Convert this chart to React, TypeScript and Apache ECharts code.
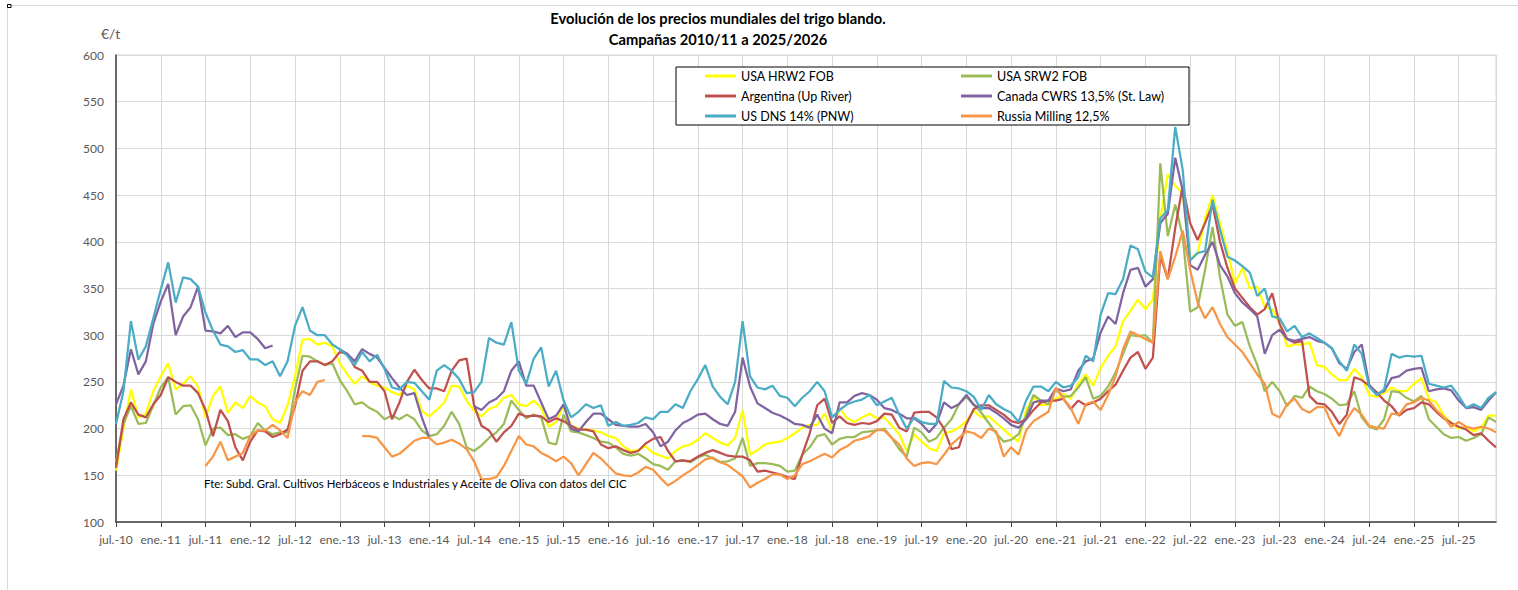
import React, { useEffect, useRef } from 'react';
import * as echarts from 'echarts';

// Monthly values, index 0 = jul-2010 ... 185 = dic-2025 (€/t)
const xTickLabels = [
  'jul.-10', 'ene.-11', 'jul.-11', 'ene.-12', 'jul.-12', 'ene.-13', 'jul.-13', 'ene.-14',
  'jul.-14', 'ene.-15', 'jul.-15', 'ene.-16', 'jul.-16', 'ene.-17', 'jul.-17', 'ene.-18',
  'jul.-18', 'ene.-19', 'jul.-19', 'ene.-20', 'jul.-20', 'ene.-21', 'jul.-21', 'ene.-22',
  'jul.-22', 'ene.-23', 'jul.-23', 'ene.-24', 'jul.-24', 'ene.-25', 'jul.-25',
];

const seriesNames = [
  'USA HRW2 FOB',
  'USA SRW2 FOB',
  'Argentina (Up River)',
  'Canada CWRS 13,5% (St. Law)',
  'US DNS 14% (PNW)',
  'Russia Milling 12,5%',
];

const seriesColors = ['#FFFF00', '#9BBB59', '#C0504D', '#8064A2', '#4BACC6', '#F79646'];

const hrw2 = [
  155, 200, 242, 212, 216, 240, 256, 270, 242, 248, 256, 245,
  212, 235, 245, 217, 228, 222, 235, 228, 224, 210, 206, 225,
  256, 295, 296, 290, 292, 288, 270, 258, 248, 256, 250, 246,
  244, 239, 236, 246, 242, 219, 213, 220, 228, 246, 245, 230,
  219, 213, 221, 224, 233, 236, 226, 224, 230, 222, 202, 207,
  225, 203, 200, 199, 198, 196, 192, 190, 181, 176, 177, 181,
  174, 171, 168, 176, 181, 183, 188, 195, 190, 185, 182, 190,
  220, 172, 177, 183, 185, 186, 190, 195, 201, 204, 204, 216,
  198, 222, 211, 207, 212, 216, 211, 212, 203, 194, 176, 194,
  186, 179, 176, 195, 197, 201, 208, 219, 212, 213, 206, 199,
  192, 186, 220, 234, 225, 226, 232, 237, 232, 248, 258, 246,
  265, 278, 288, 315, 326, 338, 328, 338, 425, 472, 460, 452,
  382, 388, 425, 450, 420, 390, 355, 372, 350, 352, 330, 328,
  312, 288, 290, 290, 292, 268, 266, 258, 252, 252, 264, 255,
  236, 234, 238, 244, 240, 240, 248, 254, 232, 228, 214, 206,
  200, 202, 197, 201, 214, 214,
];

const srw2 = [
  164, 205, 224, 205, 206, 225, 244, 255, 215, 224, 225, 210,
  182, 200, 201, 193, 194, 189, 192, 206, 198, 194, 196, 196,
  242, 278, 277, 272, 268, 270, 252, 240, 226, 228, 222, 218,
  210, 214, 210, 215, 210, 198, 192, 194, 203, 218, 205, 180,
  176, 182, 190, 196, 205, 230, 220, 211, 215, 212, 185, 183,
  215, 197, 196, 193, 190, 186, 185, 180, 173, 171, 173, 168,
  162, 160, 156, 165, 166, 164, 169, 172, 168, 164, 165, 168,
  190, 160, 163, 163, 162, 160, 154, 155, 172, 180, 192, 194,
  183, 189, 191, 191, 196, 197, 198, 200, 190, 178, 170, 201,
  196, 186, 190, 201, 210, 226, 234, 226, 217, 206, 195, 186,
  188, 194, 214, 236, 230, 226, 242, 234, 235, 244, 255, 232,
  235, 245, 260, 280, 300, 299, 300, 292, 484, 406, 440, 406,
  325, 330, 370, 416, 362, 322, 310, 314, 288, 268, 240, 250,
  240, 224, 235, 233, 245, 240, 237, 232, 225, 226, 240, 212,
  202, 199, 210, 240, 239, 233, 229, 235, 210, 202, 194, 190,
  191, 187, 190, 194, 212, 207,
];

const argentina = [
  158, 210, 228, 215, 212, 226, 236, 255, 250, 246, 246, 238,
  220, 192, 220, 208, 180, 166, 186, 198, 197, 191, 194, 199,
  224, 262, 272, 272, 268, 272, 282, 280, 266, 262, 250, 250,
  240, 210, 228, 250, 263, 252, 243, 243, 240, 262, 273, 275,
  225, 203, 198, 186, 196, 203, 216, 213, 214, 213, 207, 211,
  208, 203, 199, 199, 197, 183, 179, 181, 177, 174, 176, 184,
  189, 191, 176, 165, 166, 165, 170, 174, 177, 174, 171, 170,
  170, 166, 154, 155, 153, 151, 148, 146, 172, 195, 225, 232,
  206, 213, 206, 204, 206, 205, 208, 216, 215, 201, 197, 217,
  218, 218, 212, 200, 178, 180, 205, 221, 225, 225, 220, 215,
  208, 206, 210, 220, 228, 230, 230, 232, 221, 230, 225, 228,
  232, 240, 247, 262, 276, 282, 264, 276, 385, 360, 415, 460,
  420, 402, 420, 440, 400, 372, 350, 340, 330, 322, 328, 345,
  312, 296, 292, 294, 235, 227, 226, 218, 205, 215, 255, 252,
  246, 239, 230, 224, 214, 220, 222, 228, 226, 218, 211, 206,
  202, 199, 193, 195, 187, 180,
];

const canada = [
  226, 246, 285, 258, 272, 312, 336, 355, 300, 320, 330, 352,
  305, 304, 302, 310, 298, 303, 303, 296, 286, 289, null, null,
  null, null, null, null, null, null, 285, 280, 272, 285, 280, 276,
  265, 254, 244, 236, 238, 212, 190, null, null, null, null, null,
  224, 220, 228, 232, 240, 262, 272, 246, 246, 228, 210, 214,
  226, 200, 197, 207, 216, 216, 210, 204, 203, 202, 202, 205,
  196, 181, 186, 198, 206, 210, 215, 216, 210, 205, 203, 218,
  276, 245, 227, 222, 217, 214, 210, 205, 204, 201, 215, 200,
  195, 228, 228, 235, 238, 236, 231, 222, 220, 216, 211, 211,
  205, 196, 205, 228, 222, 226, 236, 225, 222, 222, 217, 211,
  204, 201, 210, 228, 230, 230, 243, 240, 242, 262, 272, 275,
  303, 320, 312, 345, 370, 372, 352, 360, 420, 430, 490, 455,
  375, 370, 386, 400, 375, 363, 345, 335, 328, 320, 280, 300,
  306, 296, 294, 296, 298, 294, 292, 286, 270, 264, 282, 290,
  247, 237, 240, 254, 256, 262, 264, 265, 240, 242, 243, 241,
  230, 222, 223, 220, 230, 239,
];

const dns = [
  205, 240, 315, 274, 288, 318, 349, 378, 335, 362, 360, 352,
  324, 305, 290, 288, 282, 284, 274, 274, 268, 272, 256, 272,
  310, 330, 305, 300, 300, 290, 285, 278, 268, 282, 272, 279,
  264, 244, 242, 250, 249, 240, 231, 262, 268, 262, 253, 238,
  239, 250, 297, 292, 290, 314, 262, 248, 275, 287, 245, 262,
  230, 212, 218, 226, 222, 225, 203, 207, 203, 204, 206, 212,
  210, 218, 218, 226, 222, 240, 253, 268, 245, 234, 226, 250,
  315, 256, 244, 242, 246, 235, 233, 224, 233, 240, 250, 240,
  212, 220, 226, 229, 231, 236, 225, 229, 233, 215, 200, 212,
  207, 205, 205, 251, 244, 243, 240, 234, 220, 236, 226, 221,
  217, 207, 230, 245, 245, 240, 250, 244, 246, 255, 278, 272,
  322, 345, 344, 360, 396, 392, 368, 362, 425, 434, 523, 477,
  380, 388, 390, 445, 413, 384, 380, 374, 367, 342, 350, 320,
  318, 304, 310, 298, 302, 297, 292, 286, 272, 262, 290, 280,
  245, 236, 242, 280, 276, 278, 277, 278, 248, 246, 244, 246,
  235, 222, 226, 222, 233, 239,
];

const russia = [
  null, null, null, null, null, null, null, null, null, null, null, null,
  160, 170, 186, 166, 170, 174, 192, 198, 198, 204, 198, 190,
  228, 240, 236, 250, 252, null, null, null, null, 192, 192, 190,
  180, 170, 173, 180, 187, 190, 190, 183, 185, 188, 184, 178,
  165, 146, 146, 148, 160, 176, 192, 183, 181, 174, 170, 165,
  170, 163, 150, 162, 174, 168, 160, 152, 150, 149, 153, 159,
  156, 147, 139, 144, 150, 155, 161, 167, 169, 164, 161, 155,
  149, 137, 142, 146, 151, 151, 146, 150, 162, 165, 169, 173,
  169, 177, 181, 187, 189, 192, 199, 198, 190, 183, 168, 160,
  163, 164, 162, 172, 183, 190, 197, 195, 190, 200, 197, 170,
  180, 172, 198, 208, 213, 218, 244, 232, 222, 205, 226, 229,
  220, 236, 256, 285, 304, 300, 296, 292, 390, 360, 384, 412,
  370, 335, 318, 330, 312, 298, 290, 282, 270, 258, 248, 216,
  212, 226, 232, 221, 217, 223, 223, 205, 192, 210, 222, 215,
  203, 201, 200, 216, 215, 226, 228, 233, 230, 220, 212, 202,
  207, 202, 200, 202, 200, 196,
];

const allSeries = [hrw2, srw2, argentina, canada, dns, russia];
const legendTextWidths = [216, 190, 216, 190, 216, 190];

const titleLines = [
  'Evolución de los precios mundiales del trigo blando.',
  'Campañas 2010/11 a 2025/2026',
];
const unitLabel = '€/t';
const sourceNote = 'Fte: Subd. Gral. Cultivos Herbáceos e Industriales y Aceite de Oliva con datos del CIC';

const FONT = 'Lato, "Noto Sans", sans-serif';

export default function App() {
  const ref = useRef<HTMLDivElement>(null);

  useEffect(() => {
    if (!ref.current) return;
    const chart = echarts.init(ref.current, null, { renderer: 'svg' });

    const series = allSeries.map((arr, k) => ({
      name: seriesNames[k],
      type: 'line',
      symbol: 'none',
      connectNulls: false,
      data: arr.map((v, i) => [i, v === null ? '-' : v]),
      lineStyle: { width: 2.25, color: seriesColors[k] },
      itemStyle: { color: seriesColors[k] },
      emphasis: { disabled: true },
      z: 2 + k,
    }));

    chart.setOption({
      animation: false,
      backgroundColor: '#ffffff',
      textStyle: { fontFamily: FONT },
      grid: {
        left: 116,
        top: 55,
        width: 1380,
        height: 467,
        show: true,
        borderColor: '#d9d9d9',
        borderWidth: 1,
        containLabel: false,
      },
      legend: {
        left: 676,
        top: 67,
        width: 490,
        orient: 'horizontal',
        padding: [1, 2, 1, 29],
        itemGap: 4,
        itemWidth: 31,
        itemHeight: 3,
        icon: 'rect',
        borderColor: '#000',
        borderWidth: 1,
        backgroundColor: '#ffffff',
        selectedMode: false,
        textStyle: { fontSize: 12.5, color: '#000', fontFamily: FONT, lineHeight: 16 },
        data: seriesNames.map((n, k) => ({
          name: n,
          textStyle: { width: legendTextWidths[k], fontSize: 12.5, color: '#000', lineHeight: 16 },
        })),
      },
      xAxis: {
        type: 'value',
        min: 0,
        max: 185,
        interval: 6,
        axisLine: { show: true, lineStyle: { color: '#404040', width: 1.5 } },
        axisTick: { show: true, length: 5, lineStyle: { color: '#404040' } },
        axisLabel: {
          color: '#595959',
          fontSize: 12,
          fontFamily: FONT,
          margin: 11,
          showMaxLabel: false,
          formatter: (v: number) => {
            const m = Math.round(v);
            if (m % 6 !== 0) return '';
            return xTickLabels[m / 6] ?? '';
          },
        },
        splitLine: { show: true, lineStyle: { color: '#d9d9d9', width: 1 } },
      },
      yAxis: {
        type: 'value',
        min: 100,
        max: 600,
        interval: 50,
        axisLine: { show: true, lineStyle: { color: '#404040', width: 1.5 } },
        axisTick: { show: false },
        axisLabel: { color: '#595959', fontSize: 12, fontFamily: FONT, margin: 12 },
        splitLine: { show: true, lineStyle: { color: '#d9d9d9', width: 1 } },
      },
      graphic: [
        {
          type: 'line',
          shape: { x1: 7.5, y1: 5.5, x2: 1518, y2: 5.5 },
          style: { stroke: '#d9d9d9', lineWidth: 1 },
          silent: true,
        },
        {
          type: 'line',
          shape: { x1: 7.5, y1: 5.5, x2: 7.5, y2: 590 },
          style: { stroke: '#d9d9d9', lineWidth: 1 },
          silent: true,
        },
        {
          type: 'rect',
          shape: { x: 7.5, y: 4.5, width: 3.5, height: 3 },
          style: { stroke: '#000', fill: '#fff', lineWidth: 1 },
          silent: true,
        },
        {
          type: 'text',
          x: 718,
          y: 18,
          style: {
            text: titleLines[0],
            font: `bold 14.7px ${FONT}`,
            fill: '#000',
            textAlign: 'center',
            textVerticalAlign: 'middle',
          },
          silent: true,
        },
        {
          type: 'text',
          x: 718,
          y: 39,
          style: {
            text: titleLines[1],
            font: `bold 14.7px ${FONT}`,
            fill: '#000',
            textAlign: 'center',
            textVerticalAlign: 'middle',
          },
          silent: true,
        },
        {
          type: 'text',
          x: 101,
          y: 33,
          style: {
            text: unitLabel,
            font: `14px ${FONT}`,
            fill: '#595959',
            textAlign: 'left',
            textVerticalAlign: 'middle',
          },
          silent: true,
        },
        {
          type: 'text',
          x: 204,
          y: 483,
          z: 100,
          style: {
            text: sourceNote,
            font: `11.4px ${FONT}`,
            fill: '#000',
            textAlign: 'left',
            textVerticalAlign: 'middle',
          },
          silent: true,
        },
      ],
      series,
    });

    return () => chart.dispose();
  }, []);

  return (
    <div
      ref={ref}
      style={{ position: 'absolute', left: 0, top: 0, width: 1518, height: 590, background: '#fff' }}
    />
  );
}
